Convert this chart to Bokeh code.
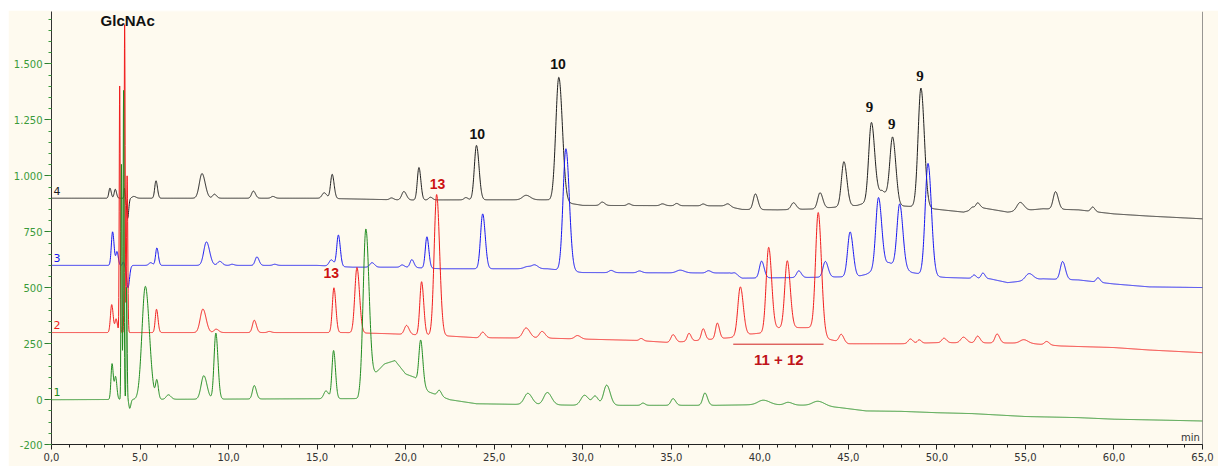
import numpy as np
from bokeh.plotting import figure
from bokeh.models import FixedTicker, Span
from bokeh.embed import file_html
from bokeh.resources import INLINE
from bokeh.core.properties import value

# ---------------------------------------------------------------------------
# Chromatogram data: each trace is a list of peaks (retention time in min,
# height above the local baseline, peak width sigma in min) plus baseline
# knots (time, signal).  Traces are stacked with their own offset.
# ---------------------------------------------------------------------------

# trace 4 (black)
t4_rt = [3.3, 3.6, 4.12, 4.3, 4.65, 5.9, 8.5, 9.2, 11.4, 12.5, 15.4, 15.85, 19.2, 19.9, 20.75,
         21.4, 23.4, 24.0, 26.8, 28.65, 31.1, 32.6, 34.5, 35.3, 36.8, 38.2, 39.75, 41.9, 43.4,
         44.75, 46.3, 47.5, 49.1, 52.0, 52.3, 54.7, 56.7, 58.8]
t4_h = [45, 40, 45, -90, 8, 78, 110, 18, 32, 8, 25, 108, 8, 38, 145,
        12, 10, 243, 20, 555, 15, 8, 8, 10, 8, 12, 70, 30, 70,
        200, 340, 280, 533, 12, 25, 38, 78, 20]
t4_w = [0.06, 0.06, 0.025, 0.05, 0.1, 0.07, 0.15, 0.1, 0.1, 0.1, 0.12, 0.09, 0.1, 0.12, 0.09,
        0.1, 0.1, 0.12, 0.2, 0.17, 0.12, 0.1, 0.12, 0.1, 0.1, 0.12, 0.12, 0.13, 0.13,
        0.14, 0.15, 0.15, 0.16, 0.1, 0.1, 0.18, 0.13, 0.1]
t4_bt = [0, 15, 20, 24, 28, 30, 38, 39, 41, 43, 45.5, 46.0, 46.9, 47.9, 48.8, 50.3, 51.5,
         52.5, 54, 56, 58, 60, 62, 65]
t4_bv = [900, 900, 892, 893, 893, 868, 866, 850, 848, 852, 868, 880, 935, 866, 862, 848, 838,
         858, 838, 853, 848, 830, 820, 808]

# trace 3 (blue)
t3_rt = [3.45, 3.7, 4.05, 4.32, 5.6, 5.95, 8.75, 9.5, 10.2, 11.6, 12.6, 15.8, 16.2, 18.1,
         19.8, 20.35, 21.2, 24.35, 26.9, 27.3, 29.05, 31.6, 33.2, 35.5, 37.1, 38.6, 40.1,
         42.2, 43.7, 45.1, 46.7, 47.9, 49.5, 52.1, 52.6, 55.2, 57.1, 59.1]
t3_h = [150, 60, 15, -100, 12, 78, 105, 18, 5, 38, 5, 28, 140, 20,
        10, 35, 140, 245, 10, 15, 545, 10, 8, 12, 10, 10, 75,
        30, 70, 200, 315, 283, 500, 15, 25, 30, 80, 20]
t3_w = [0.07, 0.06, 0.04, 0.07, 0.1, 0.07, 0.15, 0.12, 0.1, 0.1, 0.1, 0.12, 0.09, 0.12,
        0.1, 0.1, 0.09, 0.12, 0.2, 0.15, 0.16, 0.12, 0.12, 0.2, 0.12, 0.12, 0.12,
        0.12, 0.13, 0.14, 0.15, 0.15, 0.16, 0.1, 0.1, 0.2, 0.13, 0.1]
t3_bt = [0, 15, 17, 20, 22, 28, 30, 38.3, 39.0, 42.5, 45.5, 46.0, 47.3, 48.6, 49.9, 50.5,
         53, 54, 56, 58, 60, 62, 65]
t3_bv = [600, 600, 592, 592, 585, 585, 568, 566, 543, 546, 550, 560, 612, 568, 550, 546,
         540, 523, 540, 535, 517, 504, 501]

# trace 2 (red)
t2_rt = [3.4, 3.65, 3.85, 4.13, 4.27, 5.93, 8.55, 9.3, 11.45, 12.3, 15.95, 17.25, 20.05,
         20.9, 21.75, 24.35, 26.8, 27.7, 29.7, 33.3, 35.1, 36.0, 36.8, 37.6, 38.9, 40.5,
         41.55, 43.3, 44.6, 48.5, 49.0, 50.4, 51.5, 52.3, 53.4, 54.9, 56.2]
t2_h = [125, 60, 1100, 1375, 700, 104, 105, 15, 55, 5, 200, 292, 40,
        238, 630, 25, 45, 30, 15, 10, 35, 35, 50, 70, 218, 373,
        300, 535, 35, 20, 15, 20, 25, 30, 40, 15, 15]
t2_w = [0.07, 0.06, 0.025, 0.025, 0.03, 0.07, 0.15, 0.12, 0.1, 0.1, 0.09, 0.12, 0.12,
        0.1, 0.14, 0.12, 0.18, 0.15, 0.15, 0.1, 0.12, 0.1, 0.1, 0.1, 0.14, 0.14,
        0.14, 0.15, 0.12, 0.12, 0.1, 0.12, 0.15, 0.12, 0.12, 0.2, 0.12]
t2_bt = [0, 15, 16.6, 19, 22.3, 24, 28, 30, 33, 35, 38.3, 39.3, 40.1, 41.0, 42.2, 42.9,
         43.9, 45, 48, 50, 55, 57, 60, 62, 65]
t2_bv = [300, 300, 300, 295, 285, 277, 275, 271, 265, 255, 277, 292, 298, 320, 322, 322,
         270, 250, 250, 255, 253, 240, 233, 222, 210]

# trace 1 (green)
t1_rt = [3.42, 3.62, 3.95, 4.07, 4.24, 4.42, 5.3, 5.95, 6.6, 8.6, 9.28, 11.45, 15.5, 15.93,
         17.75, 20.85, 21.9, 26.9, 28.0, 30.1, 30.7, 31.35, 33.4, 35.1, 36.9, 40.2, 41.6, 43.3]
t1_h = [160, 100, 1050, 1380, 500, -40, 505, 80, 20, 105, 295, 60, 35, 215,
        705, 195, 25, 50, 55, 45, 40, 90, 10, 30, 55, 20, 12, 20]
t1_w = [0.06, 0.06, 0.025, 0.025, 0.025, 0.05, 0.19, 0.07, 0.12, 0.15, 0.1, 0.1, 0.12, 0.09,
        0.15, 0.1, 0.1, 0.2, 0.2, 0.2, 0.15, 0.17, 0.1, 0.12, 0.12, 0.3, 0.2, 0.3]
t1_bt = [0, 17.3, 18.2, 18.8, 19.4, 20.0, 20.5, 21.3, 22.5, 24, 30, 37.5, 40, 43, 44.5, 46,
         48, 50, 52, 55, 58, 60, 62, 65]
t1_bv = [0, 5, 110, 160, 175, 115, 100, 35, 0, -18, -25, -25, -22, -25, -35, -50,
         -52, -58, -62, -75, -80, -87, -90, -95]

trace_names = ["1", "2", "3", "4"]
trace_colors = ["#1f8b1f", "#f01c1c", "#1414f0", "#1e1e1e"]
trace_offsets = [0, 300, 600, 900]

# peak annotations
ann_text = ["GlcNAc", "10", "10", "13", "13", "9", "9", "9"]
ann_x = [4.3, 24.05, 28.6, 21.8, 15.8, 46.2, 47.45, 49.05]
ann_y = [1694, 1187, 1500, 963, 567, 1306, 1232, 1445]
ann_color = ["#111111", "#111111", "#111111", "#cc1111", "#cc1111", "#111111", "#111111", "#111111"]
ann_font = ["Liberation Sans"] * 5 + ["Liberation Serif"] * 3
ann_size = ["15px", "14px", "14px", "14px", "14px", "15px", "15px", "15px"]

group_label = "11 + 12"
group_start, group_end, group_level = 38.5, 43.6, 248
group_text_x, group_text_y = 41.07, 181

# axis ticks
x_ticks = list(range(0, 66, 5))
x_minor = list(range(0, 66))
y_ticks = [-200, 0, 250, 500, 750, 1000, 1250, 1500]
y_minor = list(range(-200, 1701, 50))

TAIL = 1.2
T = np.linspace(0, 65, 6501)


def build_trace(rt, h, w, bt, bv):
    y = np.interp(T, bt, bv).astype(float)
    for r, a, s in zip(rt, h, w):
        sig = np.where(T < r, s, s * TAIL)
        y = y + a * np.exp(-0.5 * ((T - r) / sig) ** 2)
    return y


traces = [
    build_trace(t1_rt, t1_h, t1_w, t1_bt, t1_bv),
    build_trace(t2_rt, t2_h, t2_w, t2_bt, t2_bv),
    build_trace(t3_rt, t3_h, t3_w, t3_bt, t3_bv),
    build_trace(t4_rt, t4_h, t4_w, t4_bt, t4_bv),
]

CREAM = "#fefaef"

p = figure(width=1210, height=456, x_range=(0, 65), y_range=(-200, 1734),
           output_backend="svg", toolbar_location=None,
           background_fill_color=CREAM, border_fill_color=CREAM,
           min_border_left=43, min_border_right=16, min_border_top=1, min_border_bottom=22)
p.margin = (10, 0, 0, 8)
p.outline_line_color = None
p.xgrid.visible = False
p.ygrid.visible = False

# x axis
xa = p.xaxis[0]
xa.ticker = FixedTicker(ticks=x_ticks, minor_ticks=x_minor)
xa.major_label_overrides = {t: f"{t:.1f}".replace(".", ",") for t in x_ticks}
xa.axis_line_color = "#222222"
xa.major_tick_line_color = "#222222"
xa.minor_tick_line_color = "#222222"
xa.major_tick_out = 5
xa.major_tick_in = 0
xa.minor_tick_out = 3
xa.minor_tick_in = 0
xa.major_label_text_font = "DejaVu Sans"
xa.major_label_text_font_size = "10px"
xa.major_label_text_color = "#333333"
xa.major_label_standoff = 3

# y axis
ya = p.yaxis[0]
ya.ticker = FixedTicker(ticks=y_ticks, minor_ticks=y_minor)
ya.major_label_overrides = {v: (f"{v:,}".replace(",", ".")) for v in y_ticks}
ya.axis_line_color = "#333333"
ya.major_tick_line_color = "#2e7d2e"
ya.minor_tick_line_color = "#3a9a3a"
ya.major_tick_out = 7
ya.major_tick_in = 0
ya.minor_tick_out = 3
ya.minor_tick_in = 0
ya.major_label_text_font = "DejaVu Sans"
ya.major_label_text_font_size = "10px"
ya.major_label_text_color = "#3a9a3a"
ya.major_label_standoff = 2

# right frame line
p.add_layout(Span(location=65, dimension="height", line_color="#333333", line_width=1))

# traces, drawn back to front
for idx in [3, 2, 1, 0]:
    p.line(T, traces[idx], line_color=trace_colors[idx], line_width=1)
    p.text(x=[0.12], y=[trace_offsets[idx] + 33], text=[trace_names[idx]],
           text_color=trace_colors[idx], text_font=value("DejaVu Sans"),
           text_font_size="11px", text_align="left", text_baseline="middle")

# peak labels
for txt, x, y, c, f, s in zip(ann_text, ann_x, ann_y, ann_color, ann_font, ann_size):
    p.text(x=[x], y=[y], text=[txt], text_color=c, text_font=value(f),
           text_font_size=s, text_font_style="bold",
           text_align="center", text_baseline="middle")

# grouped peaks bracket
p.line([group_start, group_end], [group_level, group_level], line_color="#d02020", line_width=1)
p.text(x=[group_text_x], y=[group_text_y], text=[group_label], text_color="#c0141a",
       text_font=value("Liberation Sans"), text_font_size="15px", text_font_style="bold",
       text_align="center", text_baseline="middle")

# unit label
p.text(x=[64.85], y=[-167], text=["min"], text_color="#333333",
       text_font=value("DejaVu Sans"), text_font_size="10px",
       text_align="right", text_baseline="middle")

open("out.html", "w").write(file_html(p, INLINE))
